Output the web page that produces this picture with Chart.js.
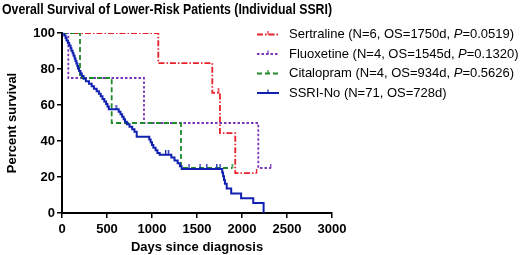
<!DOCTYPE html>
<html><head><meta charset="utf-8">
<script src="https://cdn.jsdelivr.net/npm/chart.js@4/dist/chart.umd.min.js"></script>
<style>html,body{margin:0;padding:0;background:#fff}#wrap{width:520px;height:255px}</style>
</head><body><div id="wrap"><canvas id="c" width="520" height="255"></canvas></div>
<script>
const titleText = "Overall Survival of Lower-Risk Patients (Individual SSRI)";
const xTitle = "Days since diagnosis";
const yTitle = "Percent survival";
const xTicks = [0, 500, 1000, 1500, 2000, 2500, 3000];
const yTicks = [0, 20, 40, 60, 80, 100];

const seriesNames = ["Sertraline", "Fluoxetine", "Citalopram", "SSRI-No"];
const seriesN = [6, 4, 4, 71];
const seriesOS = ["1750d", "1545d", "934d", "728d"];
const seriesP = ["0.0519", "0.1320", "0.5626", null];

// Kaplan-Meier step points (day, percent)
const sertDays = [0, 1070, 1670, 1755, 1925, 2160];
const sertSurv = [100, 83.3, 66.7, 44.4, 22.2, 22.2];
const sertCensDays = [1735, 2160];
const sertCensSurv = [66.7, 22.2];

const fluoDays = [0, 70, 911, 2181, 2318];
const fluoSurv = [100, 75, 50, 25, 25];
const fluoCensDays = [2318];
const fluoCensSurv = [25];

const citaDays = [0, 200, 552, 1322, 1890];
const citaSurv = [100, 75, 50, 25, 25];
const citaCensDays = [1890];
const citaCensSurv = [25];

const noDays = [0, 25, 40, 50, 65, 80, 95, 105, 118, 128, 140, 150, 160, 170, 178, 190, 205, 220, 240, 265, 300, 330, 355, 385, 410, 430, 450, 470, 490, 505, 520, 630, 650, 668, 685, 700, 720, 750, 780, 805, 830, 970, 985, 1000, 1015, 1040, 1060, 1085, 1215, 1250, 1285, 1310, 1330, 1780, 1790, 1800, 1810, 1830, 1880, 1990, 2125, 2240];
const noSurv = [100, 98.6, 97.2, 95.8, 94.4, 93.0, 91.5, 90.1, 88.7, 87.3, 85.9, 84.5, 83.1, 81.7, 80.3, 78.9, 77.5, 76.1, 74.6, 73.2, 71.8, 70.4, 69.0, 67.6, 66.2, 64.8, 63.4, 62.0, 60.6, 59.2, 57.7, 56.3, 54.9, 53.5, 52.1, 50.7, 49.3, 47.9, 46.5, 45.1, 42.3, 40.8, 39.3, 37.8, 36.3, 34.8, 33.3, 32.4, 30.8, 29.2, 27.6, 26.0, 24.5, 22.5, 20.4, 18.4, 16.3, 13.6, 10.9, 8.2, 5.5, 0];
const noCensDays = [600, 1150, 1180, 1410, 1533, 1607, 1718, 1755];
const noCensSurv = [57.7, 32.4, 32.4, 24.5, 24.5, 24.5, 24.5, 24.5];

const colors = ["#e8202a", "#7a35b8", "#1f8a2a", "#1020b0"];
const dashes = [[6, 2, 1.5, 2], [2.5, 2], [5, 3], []];
const widths = [1.8, 1.8, 1.8, 2];

const stepSets = [[sertDays, sertSurv], [fluoDays, fluoSurv], [citaDays, citaSurv], [noDays, noSurv]];
const censSets = [[sertCensDays, sertCensSurv], [fluoCensDays, fluoCensSurv], [citaCensDays, citaCensSurv], [noCensDays, noCensSurv]];

const FONT = "'Liberation Sans', Arial, sans-serif";

// upward censor tick as a point style image
function tickImage(color) {
  const c = document.createElement('canvas');
  c.width = 3; c.height = 9;
  const x = c.getContext('2d');
  x.fillStyle = color;
  x.fillRect(1, 0, 1.3, 5);
  return c;
}

const datasets = [];
[3, 2, 1, 0].forEach(i => {
  datasets.push({
    label: seriesNames[i],
    data: stepSets[i][0].map((d, k) => ({x: d, y: stepSets[i][1][k]})),
    borderColor: colors[i], borderDash: dashes[i], borderWidth: widths[i],
    showLine: true, stepped: true, pointRadius: 0, fill: false, tension: 0
  });
  datasets.push({
    label: seriesNames[i] + " censored",
    data: censSets[i][0].map((d, k) => ({x: d, y: censSets[i][1][k]})),
    showLine: false, pointStyle: tickImage(colors[i]), pointRadius: 3,
    borderColor: colors[i], backgroundColor: colors[i]
  });
});

const legendPlugin = {
  id: 'customLegend',
  afterDraw(chart) {
    const ctx = chart.ctx;
    const rows = [34.5, 54, 73.5, 93];
    ctx.save();
    seriesNames.forEach((name, i) => {
      const y = rows[i];
      ctx.strokeStyle = colors[i];
      ctx.lineWidth = widths[i];
      ctx.setLineDash(dashes[i]);
      ctx.beginPath(); ctx.moveTo(257, y); ctx.lineTo(279, y); ctx.stroke();
      ctx.setLineDash([]);
      ctx.lineWidth = 1.2;
      ctx.beginPath(); ctx.moveTo(268, y - 3.5); ctx.lineTo(268, y); ctx.stroke();
      ctx.fillStyle = '#000';
      ctx.textBaseline = 'middle';
      ctx.font = "13px " + FONT;
      let x = 289;
      let t = name + " (N=" + seriesN[i] + ", OS=" + seriesOS[i];
      if (seriesP[i]) {
        t += ", ";
        ctx.fillText(t, x, y); x += ctx.measureText(t).width;
        ctx.font = "italic 13px " + FONT;
        ctx.fillText("P", x, y); x += ctx.measureText("P").width;
        ctx.font = "13px " + FONT;
        ctx.fillText("=" + seriesP[i] + ")", x, y);
      } else {
        ctx.fillText(t + ")", x, y);
      }
    });
    ctx.restore();
  }
};

new Chart(document.getElementById('c'), {
  type: 'scatter',
  data: {datasets},
  options: {
    responsive: false, animation: false, devicePixelRatio: 1,
    layout: {padding: {left: 2, right: 188, top: 0, bottom: 0}},
    plugins: {
      legend: {display: false},
      tooltip: {enabled: false},
      title: {display: true, text: titleText, align: 'start', color: '#000',
        font: {family: FONT, size: 15, weight: 'bold'}, padding: {top: 1, bottom: 14}}
    },
    scales: {
      x: {
        type: 'linear', min: 0, max: 3000,
        afterBuildTicks: s => { s.ticks = xTicks.map(v => ({value: v})); },
        afterFit: s => { s.height = 42; },
        grid: {display: true, drawOnChartArea: false, drawTicks: true, tickLength: 5, color: '#000', lineWidth: 1.5},
        border: {display: true, color: '#000', width: 2},
        ticks: {color: '#000', font: {family: FONT, size: 13, weight: 'bold'}, padding: 4, maxRotation: 0, callback: v => String(v)},
        title: {display: true, text: xTitle, color: '#000', font: {family: FONT, size: 13, weight: 'bold'}, padding: {top: 3, bottom: 0}}
      },
      y: {
        type: 'linear', min: 0, max: 100,
        afterBuildTicks: s => { s.ticks = yTicks.map(v => ({value: v})); },
        afterFit: s => { s.width = 60; },
        grid: {display: true, drawOnChartArea: false, drawTicks: true, tickLength: 5, color: '#000', lineWidth: 1.5},
        border: {display: true, color: '#000', width: 2},
        ticks: {color: '#000', font: {family: FONT, size: 13, weight: 'bold'}, padding: 2, callback: v => String(v)},
        title: {display: true, text: yTitle, color: '#000', font: {family: FONT, size: 13, weight: 'bold'}, padding: {top: 3, bottom: 0}}
      }
    }
  },
  plugins: [legendPlugin]
});
</script></body></html>
